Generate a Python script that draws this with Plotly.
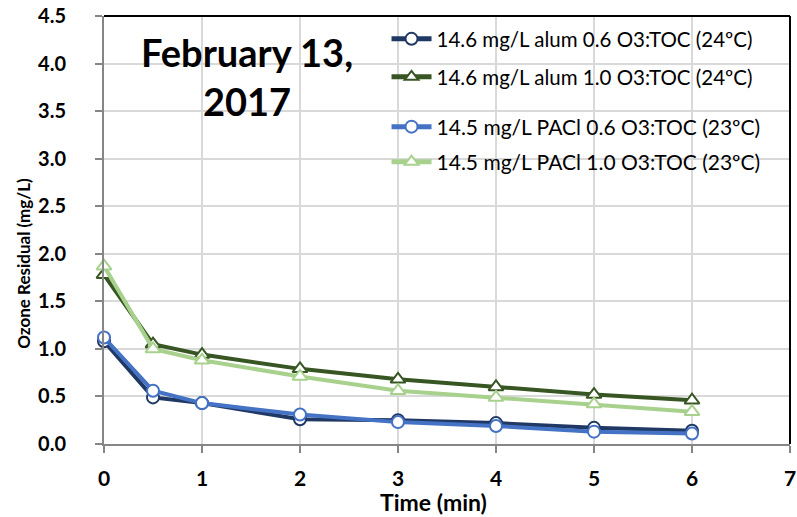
import plotly.graph_objects as go

# Sampling times (min)
time_min = [0, 0.5, 1, 2, 3, 4, 5, 6]

# Ozone residual (mg/L) for each coagulant / ozone dose condition
alum_06 = [1.08, 0.49, 0.43, 0.26, 0.25, 0.22, 0.17, 0.14]
alum_10 = [1.78, 1.05, 0.94, 0.79, 0.68, 0.60, 0.52, 0.46]
pacl_06 = [1.12, 0.56, 0.43, 0.31, 0.23, 0.19, 0.13, 0.11]
pacl_10 = [1.87, 1.00, 0.88, 0.71, 0.56, 0.49, 0.42, 0.34]

series_names = [
    "14.6 mg/L alum 0.6 O3:TOC (24ºC)",
    "14.6 mg/L alum 1.0 O3:TOC (24ºC)",
    "14.5 mg/L PACl 0.6 O3:TOC (23ºC)",
    "14.5 mg/L PACl 1.0 O3:TOC (23ºC)",
]

FONT = "Lato"

styles = [
    dict(color="#203864", symbol="circle", size=12),
    dict(color="#375623", symbol="triangle-up", size=13),
    dict(color="#4472C4", symbol="circle", size=12),
    dict(color="#A9D18E", symbol="triangle-up", size=13),
]
series_values = [alum_06, alum_10, pacl_06, pacl_10]
legend_ids = ["legend", "legend2", "legend3", "legend4"]
legend_y = [39, 77, 127, 162]   # vertical centre of each legend entry (px)
legend_fs = [20.5, 20.5, 21, 21]

W, H = 797, 517
M_L, M_R, M_T, M_B = 104, 1, 16, 73
plot_w = W - M_L - M_R
plot_h = H - M_T - M_B


def px_x(px):
    return (px - M_L) / plot_w


def px_y(py):
    return (H - M_B - py) / plot_h


fig = go.Figure()
for name, vals, st, lid in zip(series_names, series_values, styles, legend_ids):
    fig.add_trace(go.Scatter(
        x=time_min, y=vals, name=name, mode="lines+markers",
        line=dict(color=st["color"], width=4),
        marker=dict(symbol=st["symbol"], size=st["size"], color="white",
                    line=dict(color=st["color"], width=2)),
        legend=lid, cliponaxis=False,
    ))

layout_legends = {}
for lid, ly, fs in zip(legend_ids, legend_y, legend_fs):
    layout_legends[lid] = dict(
        x=px_x(389), xanchor="left",
        y=px_y(ly), yanchor="middle",
        bgcolor="rgba(0,0,0,0)", borderwidth=0,
        font=dict(family=FONT, size=fs, color="#000000"),
        itemclick=False, itemwidth=40, itemsizing="constant",
    )

fig.update_layout(
    width=W, height=H,
    margin=dict(l=M_L, r=M_R, t=M_T, b=M_B),
    paper_bgcolor="white", plot_bgcolor="white",
    font=dict(family=FONT, color="#000000"),
    showlegend=True,
    **layout_legends,
    xaxis=dict(
        range=[0, 7], dtick=1, tick0=0,
        showgrid=True, gridcolor="#d9d9d9", gridwidth=1.5,
        showline=True, linecolor="#868686", linewidth=2,
        ticks="outside", ticklen=7, tickcolor="#868686", tickwidth=1.5,
        tickfont=dict(family=FONT, size=21, color="#000000", weight="bold"),
        ticklabelstandoff=8, ticklabeloverflow="allow",
        zeroline=False,
    ),
    yaxis=dict(
        range=[0, 4.5], dtick=0.5, tick0=0, tickformat=".1f",
        showgrid=True, gridcolor="#d9d9d9", gridwidth=1.5,
        showline=True, linecolor="#868686", linewidth=2,
        ticks="outside", ticklen=7, tickcolor="#868686", tickwidth=1.5,
        tickfont=dict(family=FONT, size=20, color="#000000", weight="bold"),
        ticklabelstandoff=25,
        zeroline=False,
    ),
    annotations=[
        dict(text="<b>February 13,<br>2017</b>", xref="paper", yref="paper",
             x=px_x(248), y=px_y(76), xanchor="center", yanchor="middle",
             showarrow=False, align="center",
             font=dict(family=FONT, size=38, color="#000000")),
        # axis titles
        dict(text="<b>Time (min)</b>", xref="paper", yref="paper",
             x=px_x(436), y=px_y(502), xanchor="center", yanchor="middle",
             showarrow=False, font=dict(family=FONT, size=23, color="#000000")),
        dict(text="<b>Ozone Residual (mg/L)</b>", xref="paper", yref="paper",
             x=px_x(22), y=px_y(263), xanchor="center", yanchor="middle",
             textangle=-90, showarrow=False,
             font=dict(family=FONT, size=17, color="#000000")),
    ],
    shapes=[
        dict(type="line", xref="paper", yref="paper", x0=0, x1=1, y0=1, y1=1,
             line=dict(color="#000000", width=2)),
        dict(type="line", xref="paper", yref="paper", x0=1, x1=1, y0=0, y1=1,
             line=dict(color="#000000", width=2)),
    ],
)

fig.write_html("out.html")
